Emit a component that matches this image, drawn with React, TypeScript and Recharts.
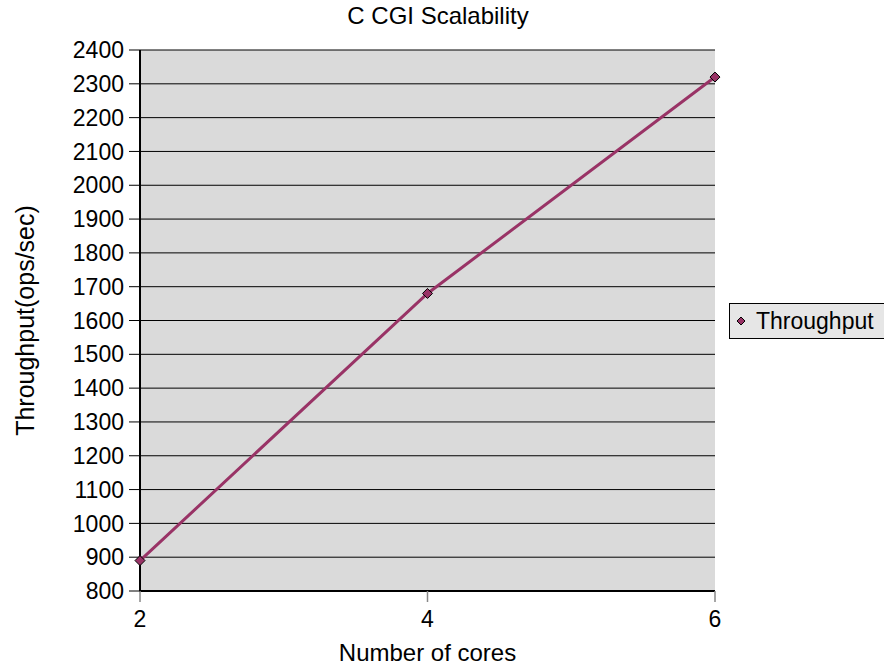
import React from 'react'
import { LineChart, Line, XAxis, YAxis, CartesianGrid, Legend } from 'recharts'

const cores = [2, 4, 6]
const throughput = [890, 1680, 2320]
const xTicks = [2, 4, 6]
const yTicks = [800, 900, 1000, 1100, 1200, 1300, 1400, 1500, 1600, 1700, 1800, 1900, 2000, 2100, 2200, 2300, 2400]
const seriesName = 'Throughput'

const data = cores.map((c, i) => ({ cores: c, throughput: throughput[i] }))

const FONT = '"Liberation Sans", Arial, Helvetica, sans-serif'
const LINE = '#993366'
const LEGEND_H = 36

const Diamond = (props: any) => {
  const { cx, cy, index } = props
  if (cx == null || cy == null) return null
  const r = 5
  return (
    <path key={index} d={`M${cx},${cy - r}L${cx + r},${cy}L${cx},${cy + r}L${cx - r},${cy}Z`}
      fill={LINE} stroke="#000" strokeWidth={1} />
  )
}

const LegendBox = () => (
  <div style={{
    width: 155, height: LEGEND_H, boxSizing: 'border-box', background: '#e6e6e6',
    borderTop: '1px solid #000', borderLeft: '1px solid #000', borderBottom: '1px solid #000',
    display: 'flex', alignItems: 'center', fontFamily: FONT, fontSize: 23, color: '#000'
  }}>
    <svg width={20} height={12} style={{ marginLeft: 3 }}>
      <path d="M8,2L12,6L8,10L4,6Z" fill={LINE} stroke="#000" strokeWidth={1} />
    </svg>
    <span style={{ marginLeft: 3 }}>{seriesName}</span>
  </div>
)

export default function App() {
  return (
    <div style={{ position: 'absolute', left: 0, top: 0, width: 884, height: 666, overflow: 'hidden', background: '#fff', fontFamily: FONT }}>
      <div style={{ position: 'absolute', top: 4, left: 0, width: 876, textAlign: 'center', fontSize: 24, lineHeight: '24px' }}>
        C CGI Scalability
      </div>
      {/* the legend's height is added to the top offset, so the margin leaves room for it */}
      <LineChart width={884} height={666} data={data}
        margin={{ top: 50 - LEGEND_H, right: 169, bottom: 0, left: 0 }}>
        <CartesianGrid vertical={false} horizontal stroke="#000" fill="#dadada" fillOpacity={1} />
        <XAxis dataKey="cores" type="number" domain={[2, 6]} ticks={xTicks} height={75}
          axisLine={{ stroke: '#000', strokeWidth: 2 }} tickLine={{ stroke: '#888', strokeWidth: 1.5 }}
          tickSize={11} tickMargin={9}
          tick={{ fill: '#000', fontSize: 23, fontFamily: FONT }}
          label={{ value: 'Number of cores', position: 'insideBottom', offset: 5, fill: '#000', fontSize: 24, fontFamily: FONT }} />
        <YAxis type="number" domain={[800, 2400]} ticks={yTicks} width={140} interval={0}
          axisLine={{ stroke: '#000', strokeWidth: 2 }} tickLine={{ stroke: '#000', strokeWidth: 1 }}
          tickSize={11} tickMargin={5}
          tick={{ fill: '#000', fontSize: 23, fontFamily: FONT }}
          label={{ value: 'Throughput(ops/sec)', angle: -90, position: 'insideLeft', offset: 25, fill: '#000', fontSize: 25, fontFamily: FONT, style: { textAnchor: 'middle' } }} />
        <Legend layout="vertical" align="center" verticalAlign="top"
          wrapperStyle={{ left: 729, top: 303, width: 155 }} content={() => <LegendBox />} />
        <Line dataKey="throughput" name={seriesName} stroke={LINE} strokeWidth={3}
          dot={Diamond} activeDot={false} isAnimationActive={false} />
      </LineChart>
    </div>
  )
}
